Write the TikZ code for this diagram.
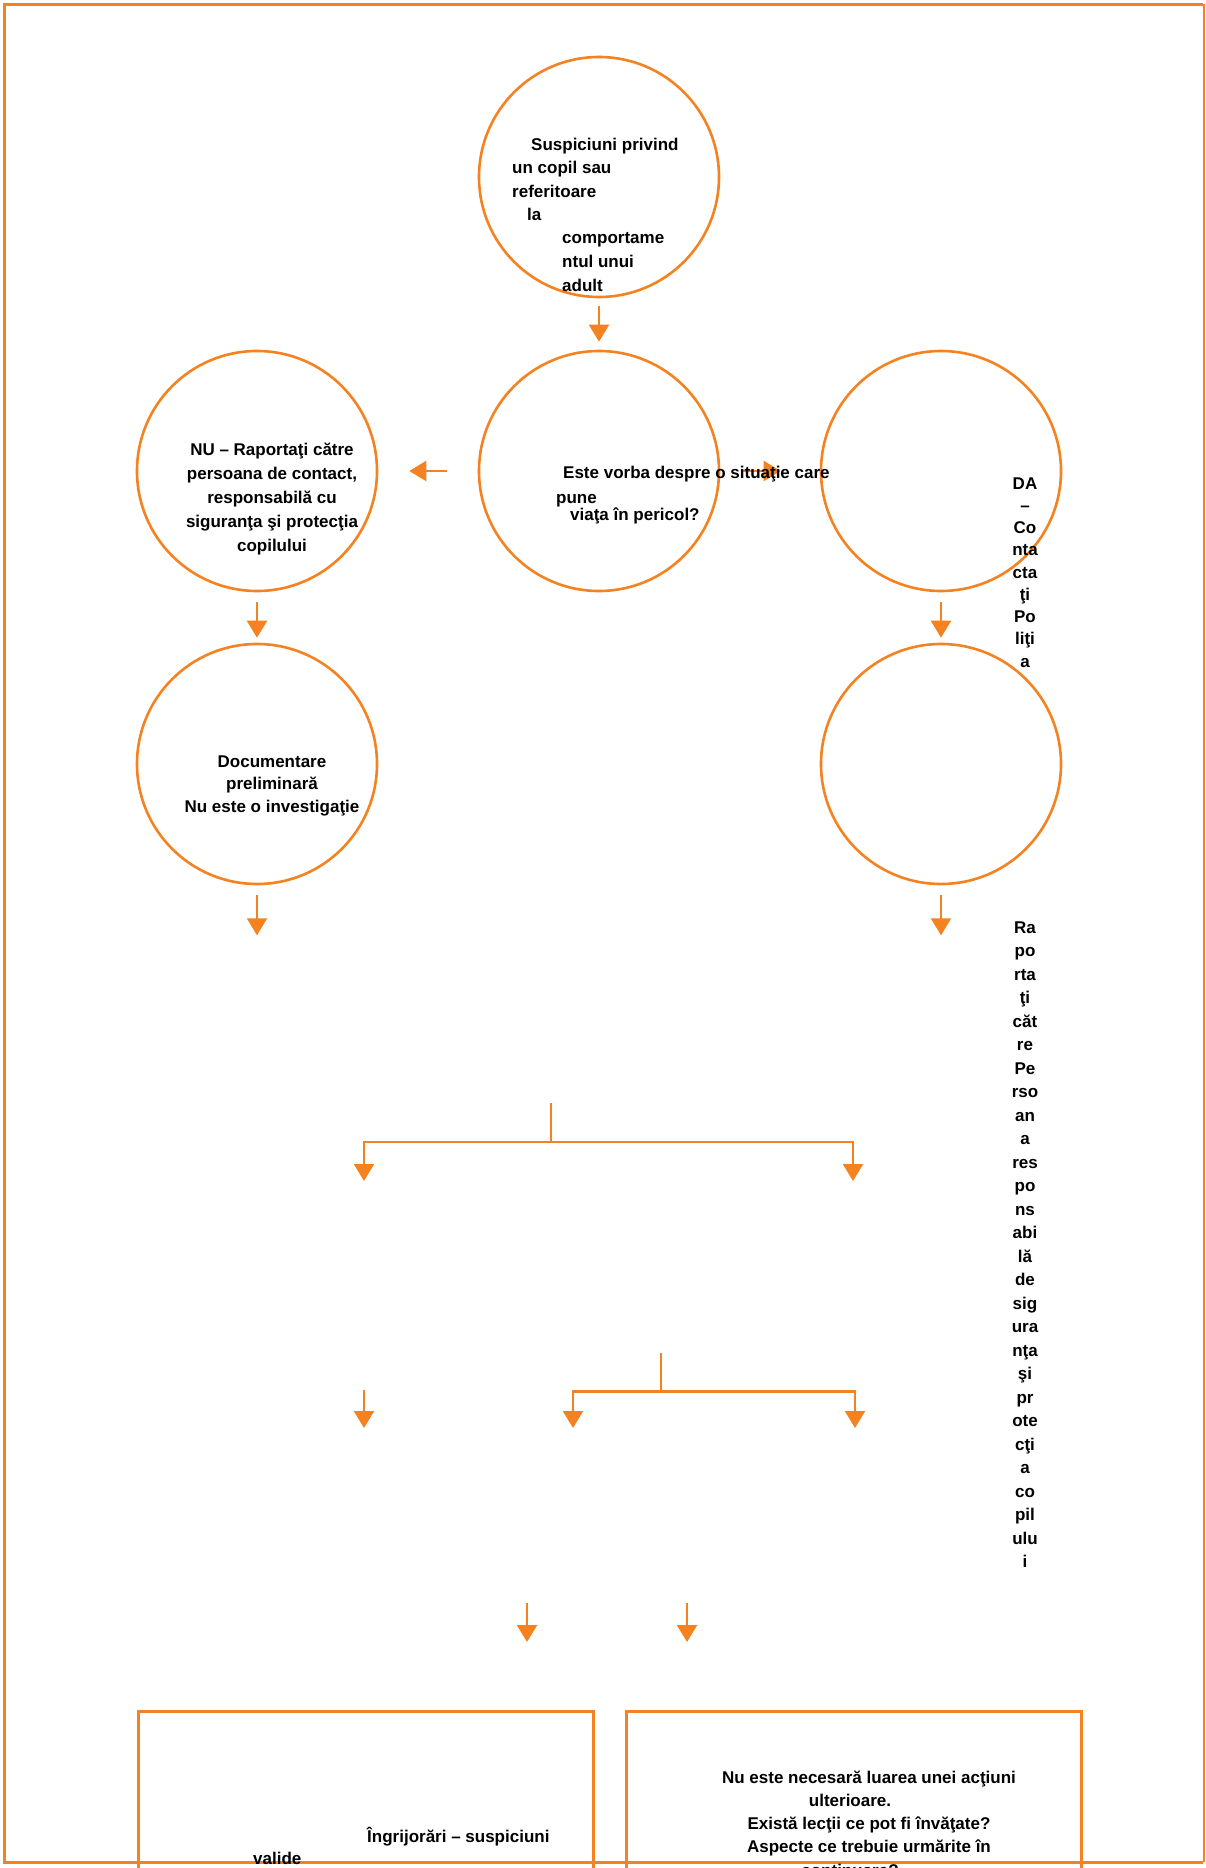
\documentclass[tikz,border=0pt]{standalone}
\usepackage{fontspec}
\setmainfont{Liberation Sans}
\usetikzlibrary{arrows.meta,calc}
\definecolor{org}{RGB}{245,130,32}
\tikzset{
 circ/.style={circle,draw=org,line width=2.6pt,minimum size=240pt,inner sep=0pt},
 obox/.style={rectangle,draw=org,line width=2.6pt,minimum width=455pt,minimum height=220pt,anchor=north west,inner sep=0pt},
 arr/.style={draw=org,line width=2.2pt,-{Triangle[width=20pt,length=17pt]}},
 ln/.style={draw=org,line width=2.2pt},
 txt/.style={font=\fontsize{17}{23.5}\selectfont\bfseries,inner sep=0pt,text=black},
 tw/.style={txt,anchor=base west},
 tc/.style={txt,anchor=base},
}
\begin{document}
\begin{tikzpicture}[x=1pt,y=-1pt]
\useasboundingbox (0,0) rectangle (1205,1868);
\clip (0,0) rectangle (1205,1868);
% circles
\node[circ] (top) at (599,177) {};
\node[circ] (mid) at (599,471) {};
\node[circ] (nu) at (257,471) {};
\node[circ] (da) at (941,471) {};
\node[circ] (doc) at (257,764) {};
\node[circ] (rc) at (941,764) {};
% bottom boxes
\node[obox] (bl) at (137,1710) {};
\node[obox] (br) at (625,1710) {};
% arrows between circles
\draw[arr] ($(top.south)+(0,8)$) -- ($(mid.north)+(0,-8)$);
\draw[arr] ($(mid.west)+(-31,0)$) -- ($(nu.east)+(31,0)$);
\draw[arr] ($(mid.east)+(23,0)$) -- ($(da.west)+(-39,0)$);
\draw[arr] ($(nu.south)+(0,10)$) -- ($(doc.north)+(0,-5)$);
\draw[arr] ($(da.south)+(0,10)$) -- ($(rc.north)+(0,-5)$);
\coordinate (docend) at ($(doc.south)+(0,50)$);
\coordinate (rcend) at ($(rc.south)+(0,50)$);
\draw[arr] ($(doc.south)+(0,10)$) -- (docend);
\draw[arr] ($(rc.south)+(0,10)$) -- (rcend);
% branch 1
\coordinate (b1) at (551,1103);
\coordinate (b1m) at (551,1142);
\coordinate (b1l) at (364,1181);
\coordinate (b1r) at (853,1181);
\draw[ln] (b1) -- (b1m);
\draw[arr] (b1m) -| (b1l);
\draw[arr] (b1m) -| (b1r);
% branch 2
\coordinate (s2a) at (364,1390);
\coordinate (s2b) at (364,1428);
\draw[arr] (s2a) -- (s2b);
\coordinate (b2) at (661,1353);
\coordinate (b2m) at (661,1391.5);
\coordinate (b2l) at (573,1428);
\coordinate (b2r) at (855,1428);
\draw[ln] (b2) -- (b2m);
\draw[arr] (b2m) -| (b2l);
\draw[arr] (b2m) -| (b2r);
% branch 3
\coordinate (a3) at (527,1603);
\coordinate (a3e) at (527,1642);
\coordinate (c3) at (687,1603);
\coordinate (c3e) at (687,1642);
\draw[arr] (a3) -- (a3e);
\draw[arr] (c3) -- (c3e);
% border
\draw[org,line width=3pt] (1203,4.5) -- (4.5,4.5) -- (4.5,1862) -- (1203,1862);
\draw[org,line width=1.2pt] (1204,4.5) -- (1204,1862);
% top circle text
\node[tw] (t1) at (531,150) {Suspiciuni privind};
\node[tw] (t2) at (512,173) {un copil sau};
\node[tw] (t3) at (512,197) {referitoare};
\node[tw] (t4) at (527,220) {la};
\node[tw] (t5) at (562,243) {comportame};
\node[tw] (t6) at (562,267) {ntul unui};
\node[tw] (t7) at (562,291) {adult};
% NU text
\node[tc] (n1) at (272,455) {NU – Raportaţi către};
\node[tc] (n2) at (272,479) {persoana de contact,};
\node[tc] (n3) at (272,503) {responsabilă cu};
\node[tc] (n4) at (272,527) {siguranţa şi protecţia};
\node[tc] (n5) at (272,551) {copilului};
% middle text
\node[tw] (m1) at (563,478) {Este vorba despre o situaţie care};
\node[tw] (m2) at (556,503) {pune};
\node[tw] (m3) at (570,520) {viaţa în pericol?};
% DA text
\foreach \w [count=\i from 0] in {DA,–,Co,nta,cta,ţi,Po,liţi,a}
  \node[tc] (d\i) at (1025,489+22.25*\i) {\w};
% Raportati vertical text
\foreach \w [count=\i from 0] in {Ra,po,rta,ţi,căt,re,Pe,rso,an,a,res,po,ns,abi,lă,de,sig,ura,nţa,şi,pr,ote,cţi,a,co,pil,ulu,i}
  \node[tc] (r\i) at (1025,933+23.5*\i) {\w};
% Documentare text
\node[tc] (dc1) at (272,767) {Documentare};
\node[tc] (dc2) at (272,789) {preliminară};
\node[tc] (dc3) at (272,812) {Nu este o investigaţie};
% bottom box texts
\node[tw] (bl1) at (367,1842) {Îngrijorări – suspiciuni};
\node[tw] (bl2) at (253,1864) {valide};
\node[tc] (br1) at (869,1783) {Nu este necesară luarea unei acţiuni};
\node[tc] (br2) at (850,1806) {ulterioare.};
\node[tc] (br3) at (869,1829) {Există lecţii ce pot fi învăţate?};
\node[tc] (br4) at (869,1852) {Aspecte ce trebuie urmărite în};
\node[tc] (br5) at (850,1876) {continuare?};
\end{tikzpicture}
\end{document}
